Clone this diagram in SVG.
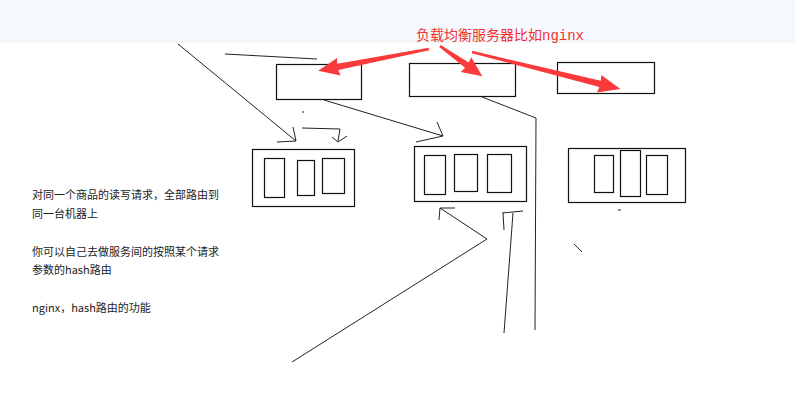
<svg xmlns="http://www.w3.org/2000/svg" width="795" height="406" viewBox="0 0 795 406">
<style>
.ln{fill:none;stroke:#222;stroke-width:1}
.bx{fill:none;stroke:#111;stroke-width:1.2}
.ra{fill:#fb3b3b}
.note{font-family:"Noto Sans CJK SC","Liberation Sans",sans-serif;font-size:11px;fill:#222}
.title{font-family:"Noto Sans CJK SC","Liberation Mono",monospace;font-size:14px;fill:#f23030}
</style>
<rect x="0" y="0" width="795" height="406" fill="#fff"/>
<rect x="0" y="0" width="795" height="43" fill="#f5f9fd"/>
<text class="title" x="416" y="40">负载均衡服务器比如<tspan font-family="Liberation Mono, monospace">nginx</tspan></text>

<g id="lb1"><rect class="bx" x="276.5" y="64.5" width="85" height="35"/></g>
<g id="lb2"><rect class="bx" x="409.5" y="63.5" width="106" height="33"/></g>
<g id="lb3"><rect class="bx" x="557.5" y="62.5" width="97" height="31"/></g>

<g id="server1">
<rect class="bx" x="252.5" y="149.5" width="102" height="57"/>
<rect class="bx" x="264.5" y="158.5" width="20" height="39"/>
<rect class="bx" x="297.5" y="160.5" width="17" height="35"/>
<rect class="bx" x="322.5" y="158.5" width="22" height="35"/>
</g>
<g id="server2">
<rect class="bx" x="414.5" y="146.5" width="112" height="55"/>
<rect class="bx" x="424.5" y="155.5" width="21" height="39"/>
<rect class="bx" x="454.5" y="154.5" width="23" height="37"/>
<rect class="bx" x="487.5" y="154.5" width="24" height="38"/>
</g>
<g id="server3">
<rect class="bx" x="568.5" y="148.5" width="117" height="54"/>
<rect class="bx" x="594.5" y="155.5" width="19" height="37"/>
<rect class="bx" x="620.5" y="150.5" width="20" height="46"/>
<rect class="bx" x="646.5" y="155.5" width="21" height="39"/>
</g>

<g id="connectors">
<g class="ra">
<path transform="translate(429,49) rotate(168.9)" d="M0,-1.2 L93,-3.2 L92,-9 L113,0 L92,9 L93,3.2 L0,1.2 Z"/>
<path transform="translate(440,46) rotate(35.5)" d="M0,-1.2 L33,-3.2 L32,-9 L52,0 L32,9 L33,3.2 L0,1.2 Z"/>
<path transform="translate(472,52) rotate(14)" d="M0,-1.2 L132,-3.2 L131,-9 L153,0 L131,9 L132,3.2 L0,1.2 Z"/>
</g>
<path class="ln" d="M178,44 L296,141 M293,127 L296,141 L277,142"/>
<path class="ln" d="M225,54 L317,59" stroke="#444"/>
<path class="ln" d="M324,100 L443,136 M437,122 L443,136 L416,142"/>
<path class="ln" d="M303,111 L303,113"/>
<path class="ln" d="M302,128 L340,129 L338,141 M332,137 L338,142 L347,136"/>
<path class="ln" d="M482,97 L536,118 L535,330"/>
<path class="ln" d="M292,362 L487,239 L440,208 M439,220 L440,208 L455,208"/>
<path class="ln" d="M504,333 L513,213 M502,213 L523,211 M503,213 L504,230"/>
<path class="ln" d="M618,210 L621,210"/>
<path class="ln" d="M574,244 L582,252"/>
</g>

<text class="note" x="32" y="199">对同一个商品的读写请求，全部路由到</text>
<text class="note" x="32" y="218">同一台机器上</text>
<text class="note" x="32" y="256">你可以自己去做服务间的按照某个请求</text>
<text class="note" x="32" y="274">参数的hash路由</text>
<text class="note" x="32" y="312">nginx，hash路由的功能</text>
</svg>
